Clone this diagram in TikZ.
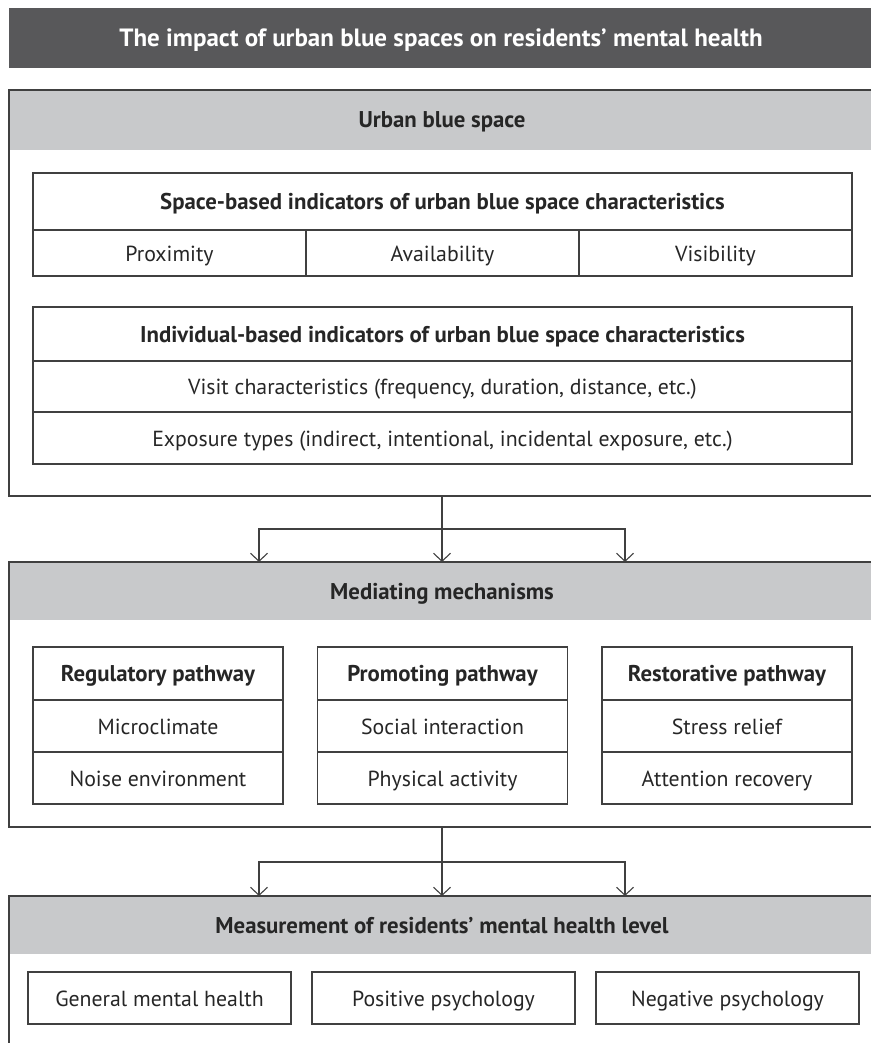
\documentclass[tikz,border=0pt]{standalone}
\usepackage{fontspec}
\setmainfont{PT Sans}
\usetikzlibrary{arrows.meta}
\definecolor{barfill}{HTML}{58585A}
\definecolor{headfill}{HTML}{C8C9CB}
\definecolor{linecol}{HTML}{404040}
\definecolor{txtcol}{HTML}{262626}
\tikzset{
  cell/.style={draw=linecol, line width=1.1pt, inner sep=0pt, text=txtcol,
    text height=16pt, text depth=0pt, font=\fontsize{21.8}{26}\selectfont},
  cellhead/.style={cell, font=\fontsize{22.8}{27}\selectfont\bfseries},
  headtext/.style={text=txtcol, inner sep=0pt, text height=16pt, text depth=0pt,
    font=\fontsize{22.8}{27}\selectfont\bfseries},
  frameline/.style={draw=linecol, line width=1.3pt},
  conn/.style={draw=linecol, line width=1.1pt},
  arr/.style={conn, -{Straight Barb[length=8pt,width=17pt]}},
}
\begin{document}
\begin{tikzpicture}[x=1pt,y=-1pt]
    \useasboundingbox (0,0) rectangle (871,1043);
    % title bar
    \fill[barfill] (9,8) rectangle (871,68);
    \node[text=white, inner sep=0pt, text height=17pt, text depth=0pt,
      font=\fontsize{25}{30}\selectfont\bfseries] (title) at (441,38)
      {The impact of urban blue spaces on residents’ mental health};

    % urban blue space
    \fill[headfill] (9,90) rectangle (871,150);
    \draw[frameline] (871,90) -- (9,90) -- (9,496) -- (871,496);
    \node[headtext] (ubs) at (442,120) {Urban blue space};
    \node[cellhead, minimum width=819pt, minimum height=57pt] (space) at (442.5,201.5)
      {Space-based indicators of urban blue space characteristics};
    \foreach \x/\n/\t in {169.5/prox/Proximity, 442.5/avail/Availability, 715.5/vis/Visibility}
      \node[cell, minimum width=273pt, minimum height=46pt] (\n) at (\x,253) {\t};
    \node[cellhead, minimum width=819pt, minimum height=54pt] (indiv) at (442.5,334)
      {Individual-based indicators of urban blue space characteristics};
    \node[cell, minimum width=819pt, minimum height=51pt] (visit) at (442.5,386.5)
      {Visit characteristics (frequency, duration, distance, etc.)};
    \node[cell, minimum width=819pt, minimum height=52pt] (expo) at (442.5,438)
      {Exposure types (indirect, intentional, incidental exposure, etc.)};

    % mediating mechanisms
    \fill[headfill] (9,562) rectangle (871,620);
    \draw[frameline] (871,562) -- (9,562) -- (9,827) -- (871,827);
    \node[headtext] (med) at (442,591) {Mediating mechanisms};
    \foreach \x/\n/\a/\b/\c in {158/reg/Regulatory pathway/Microclimate/Noise environment,
        442.5/prom/Promoting pathway/Social interaction/Physical activity,
        727/rest/Restorative pathway/Stress relief/Attention recovery} {
      \node[cellhead, minimum width=250pt, minimum height=53pt] (\n-h) at (\x,673.5) {\a};
      \node[cell, minimum width=250pt, minimum height=52pt] (\n-1) at (\x,726) {\b};
      \node[cell, minimum width=250pt, minimum height=52pt] (\n-2) at (\x,778) {\c};
    };

    % mental health level
    \fill[headfill] (9,896) rectangle (871,954);
    \draw[frameline] (871,896) -- (9,896) -- (9,1043);
    \node[headtext] (meas) at (442,925) {Measurement of residents’ mental health level};
    \foreach \x/\n/\t in {159.5/gen/General mental health, 443.5/pos/Positive psychology,
        727.5/neg/Negative psychology}
      \node[cell, minimum width=263pt, minimum height=52pt] (\n) at (\x,998) {\t};

    % connectors
    \coordinate (f1) at (442,496);
    \coordinate (j1) at (442,529);
    \coordinate (m1) at (259,562);
    \coordinate (m2) at (442,562);
    \coordinate (m3) at (625,562);
    \draw[conn] (f1) -- (j1);
    \draw[arr] (j1) -| (m1);
    \draw[arr] (j1) -- (m2);
    \draw[arr] (j1) -| (m3);

    \coordinate (f2) at (442,827);
    \coordinate (j2) at (442,862);
    \coordinate (h1) at (259,896);
    \coordinate (h2) at (442,896);
    \coordinate (h3) at (625,896);
    \draw[conn] (f2) -- (j2);
    \draw[arr] (j2) -| (h1);
    \draw[arr] (j2) -- (h2);
    \draw[arr] (j2) -| (h3);
\end{tikzpicture}
\end{document}
